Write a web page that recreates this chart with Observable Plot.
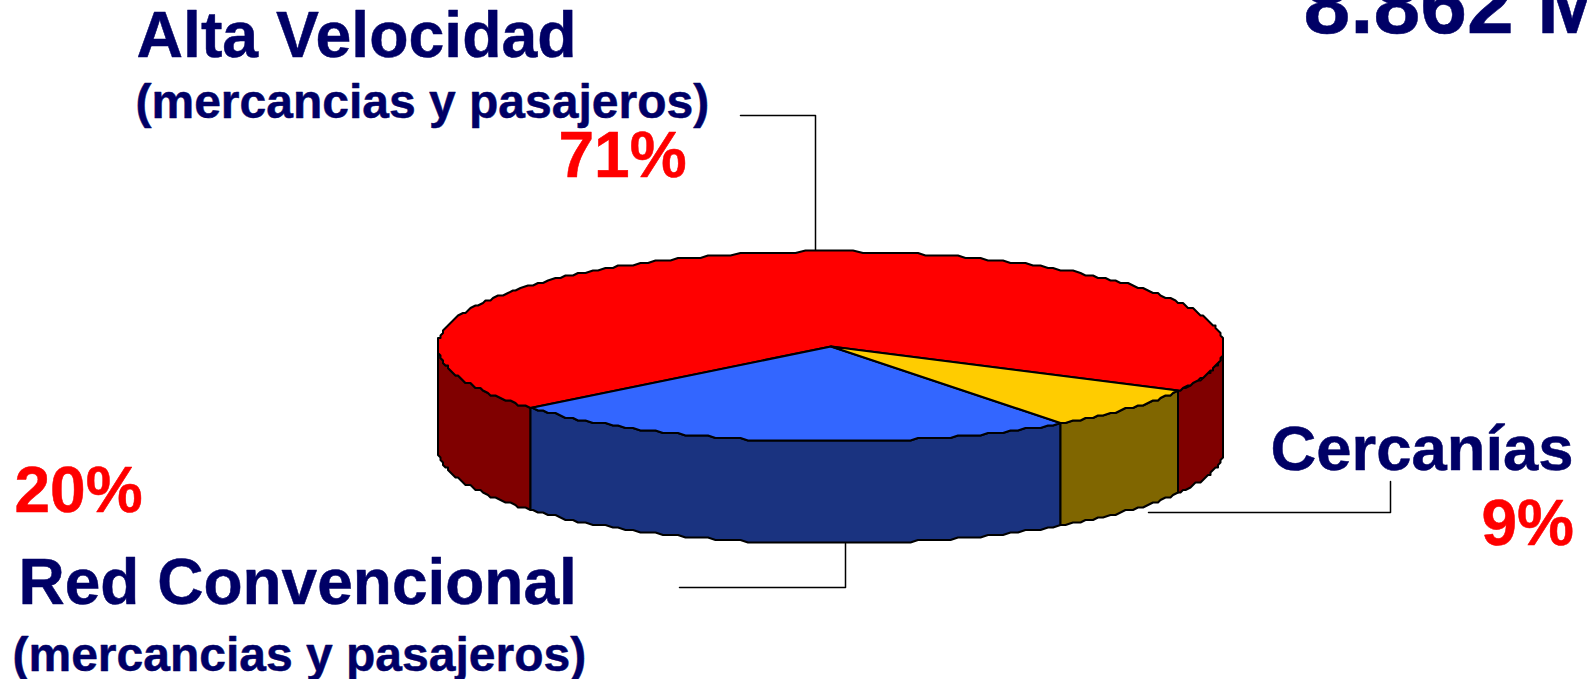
<!DOCTYPE html>
<html><head><meta charset="utf-8">
<style>html,body{margin:0;padding:0;background:#fff;overflow:hidden}svg{display:block}</style>
<script src="https://cdn.jsdelivr.net/npm/d3@7"></script>
<script src="https://cdn.jsdelivr.net/npm/@observablehq/plot@0.6"></script>
</head><body><div id="chart"></div>
<script>
// Data
const categories = ["Alta Velocidad", "Red Convencional", "Cercanías"];
const shares = [71, 20, 9];
// The picture's slices are foreshortened: start and end angle of each, as read (degrees, clockwise from 3 o'clock)
const startAngles = [140.1, 54.3, 28];
const endAngles = [388, 140.1, 54.3];
const topColors = ["#ff0000", "#3366ff", "#ffcc00"];
const sideColors = ["#800000", "#1a3380", "#806600"];

// Layout
const W = 1587, H = 679;
const cx = 830.5, cy = 346, rx = 393, ry = 95, depth = 102, grid = 2.5;
const ink = "#000066";
const px = (a) => Math.round((cx + rx * Math.cos(a * Math.PI / 180)) / grid) * grid;
const py = (a, d = 0) => Math.round((cy + ry * Math.sin(a * Math.PI / 180)) / grid) * grid + d;
const arc = (a0, a1) => d3.range(a0, a1, 1.2).concat([a1]);

const topRows = [], sideRows = [];
categories.forEach((c, i) => {
  topRows.push({c, i, x: cx, y: cy});
  for (const a of arc(startAngles[i], endAngles[i])) topRows.push({c, i, x: px(a), y: py(a)});
  topRows.push({c, i, x: cx, y: cy});
  for (const shift of [0, 360]) {
    const a0 = Math.max(startAngles[i], shift), a1 = Math.min(endAngles[i], shift + 180);
    if (a1 <= a0) continue;
    const key = c + shift;
    const as = arc(a0, a1);
    for (const a of as) sideRows.push({key, i, x: px(a), y: py(a)});
    for (const a of as.slice().reverse()) sideRows.push({key, i, x: px(a), y: py(a, depth)});
    sideRows.push({key, i, x: px(as[0]), y: py(as[0])});
  }
});

const labels = [
  {t: "Alta Velocidad", x: 136, y: 56, s: 64.4, f: ink},
  {t: "(mercancias y pasajeros)", x: 135, y: 117.5, s: 48, f: ink},
  {t: shares[0] + "%", x: 558, y: 176, s: 64, f: "#ff0000"},
  {t: shares[1] + "%", x: 14, y: 511, s: 64, f: "#ff0000"},
  {t: "Red Convencional", x: 18, y: 603, s: 64, f: ink},
  {t: "(mercancias y pasajeros)", x: 12, y: 670.5, s: 48, f: ink},
  {t: "Cercanías", x: 1270, y: 469, s: 63.4, f: ink},
  {t: shares[2] + "%", x: 1481, y: 544, s: 64, f: "#ff0000"},
  {t: "8.862 M€", x: 1303, y: 32, s: 84, f: ink}
];
const leaders = [
  [[740, 115], [815, 115], [815, 251]],
  [[679, 587], [845, 587], [845, 543]],
  [[1148, 512], [1390, 512], [1390, 481]]
].flatMap((pts, k) => pts.map(([x, y]) => ({k, x, y})));

const chart = Plot.plot({
  width: W, height: H, margin: 0,
  x: {domain: [0, W], range: [0, W], axis: null},
  y: {domain: [0, H], range: [0, H], axis: null},
  marks: [
    Plot.line(leaders, {x: "x", y: "y", z: "k", stroke: "#000", strokeWidth: 1.5, curve: "linear"}),
    Plot.line(sideRows, {x: "x", y: "y", z: "key", fill: (d) => sideColors[d.i], stroke: "#000", strokeWidth: 2, curve: "linear"}),
    Plot.line(topRows, {x: "x", y: "y", z: "c", fill: (d) => topColors[d.i], stroke: "#000", strokeWidth: 2, curve: "linear"}),
    ...labels.map((l) => Plot.text([l], {x: "x", y: "y", text: "t", fill: l.f, fontSize: l.s, fontWeight: "bold",
      stroke: l.f, strokeWidth: 0.5, fontFamily: "Liberation Sans", textAnchor: "start", lineAnchor: "bottom"}))
  ]
});
chart.removeAttribute("style");
chart.style.background = "#fff";
document.getElementById("chart").appendChild(chart);
</script></body></html>
